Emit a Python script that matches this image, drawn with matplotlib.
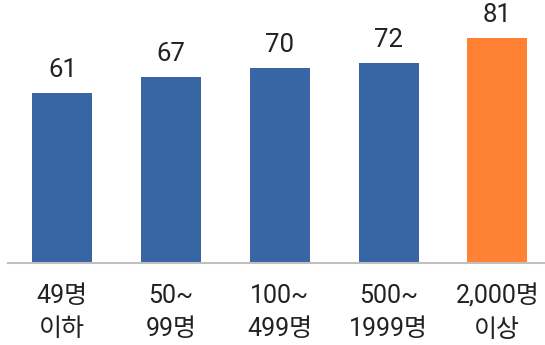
import numpy as np
import matplotlib.pyplot as plt

plt.rcParams['font.family'] = ['Roboto', 'Noto Sans CJK KR', 'DejaVu Sans']

categories = ['49명\n이하', '50~\n99명', '100~\n499명', '500~\n1999명', '2,000명\n이상']
values = [61, 67, 70, 72, 81]
colors = ['#3865a3', '#3865a3', '#3865a3', '#3865a3', '#ff8133']

fig = plt.figure(figsize=(5.45, 3.45), dpi=100)
ax = fig.add_axes([8 / 545, 82 / 345, 537 / 545, 263 / 345])

x = np.arange(len(values))
bars = ax.bar(x, values, width=0.55, color=colors)

# 막대 위 값 표시
for xi, v in zip(x, values):
    ax.text(xi, v + 4, str(v), ha='center', va='bottom', fontsize=18.5, color='#222222')

ax.set_xlim(-0.5, 4.438)
ax.set_ylim(0, 94.6)
ax.set_xticks(x)
ax.set_xticklabels(categories, fontsize=18, color='#222222', linespacing=1.5)
ax.tick_params(axis='x', length=0, pad=15)
ax.set_yticks([])
for s in ['top', 'left', 'right']:
    ax.spines[s].set_visible(False)
ax.spines['bottom'].set_color('#bfbfbf')
ax.spines['bottom'].set_linewidth(1.5)

fig.savefig('out.png', dpi=100)
